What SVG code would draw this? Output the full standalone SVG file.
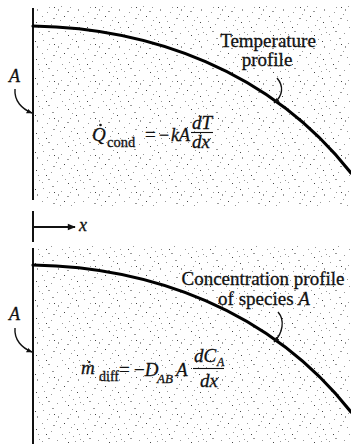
<svg xmlns="http://www.w3.org/2000/svg" width="351" height="444" viewBox="0 0 351 444">
  <style>
    .t{font-family:"Liberation Serif","Times New Roman",serif;fill:#111;stroke:#111;stroke-width:0.3}
    .i{font-style:italic}
    .wall{stroke:#111;stroke-width:2;fill:none}
    .prof{stroke:#000;stroke-width:3.2;fill:none;stroke-linecap:round}
    .lead{stroke:#111;stroke-width:1.4;fill:none}
  </style>
  <defs>
    <pattern id="stip" width="41" height="37" patternUnits="userSpaceOnUse">
      <g fill="#999">
        <rect x="2" y="3" width="1" height="1"/><rect x="11" y="1" width="2" height="1"/>
        <rect x="20" y="6" width="1" height="1"/><rect x="31" y="2" width="1" height="1"/>
        <rect x="37" y="9" width="1" height="2"/><rect x="6" y="12" width="1" height="1"/>
        <rect x="15" y="14" width="1" height="1"/><rect x="26" y="11" width="2" height="1"/>
        <rect x="33" y="17" width="1" height="1"/><rect x="3" y="21" width="1" height="1"/>
        <rect x="10" y="24" width="1" height="1"/><rect x="19" y="20" width="1" height="1"/>
        <rect x="28" y="25" width="1" height="1"/><rect x="38" y="27" width="1" height="1"/>
        <rect x="7" y="31" width="2" height="1"/><rect x="16" y="33" width="1" height="1"/>
        <rect x="24" y="31" width="1" height="1"/><rect x="34" y="34" width="1" height="1"/>
        <rect x="8" y="7" width="1" height="1"/><rect x="17" y="9" width="1" height="2"/>
        <rect x="29" y="7" width="1" height="1"/><rect x="1" y="16" width="1" height="1"/>
        <rect x="12" y="18" width="2" height="1"/><rect x="30" y="20" width="1" height="1"/>
        <rect x="21" y="27" width="1" height="1"/><rect x="32" y="29" width="1" height="1"/>
        <rect x="1" y="34" width="1" height="1"/><rect x="39" y="32" width="1" height="1"/>
      </g>
      <g fill="#444">
        <rect x="23" y="16" width="1" height="1"/><rect x="5" y="27" width="1" height="1"/>
        <rect x="36" y="22" width="1" height="1"/><rect x="13" y="7" width="1" height="1"/>
        <rect x="27" y="35" width="1" height="1"/><rect x="35" y="4" width="1" height="1"/>
      </g>
    </pattern>
    <marker id="ah" viewBox="0 0 10 10" refX="9" refY="5" markerWidth="6" markerHeight="6" orient="auto" markerUnits="userSpaceOnUse">
      <path d="M0,1 L10,5 L0,9 Z" fill="#111"/>
    </marker>
    <marker id="ahx" viewBox="0 0 10 10" refX="9" refY="5" markerWidth="9" markerHeight="8" orient="auto" markerUnits="userSpaceOnUse">
      <path d="M0,1 L10,5 L0,9 Z" fill="#111"/>
    </marker>
  </defs>
  <rect width="351" height="444" fill="#fff"/>

  <g id="top-panel">
    <rect x="35" y="5" width="316" height="201" fill="url(#stip)"/>
    <line class="wall" x1="33" y1="8" x2="33" y2="200"/>
    <path class="prof" d="M33,26 C150,28 270,70 351,173"/>
  </g>

  <g id="bottom-panel">
    <rect x="35" y="245" width="316" height="199" fill="url(#stip)"/>
    <line class="wall" x1="33" y1="248" x2="33" y2="444"/>
    <path class="prof" d="M33,265 C150,267 270,309 351,412"/>
  </g>

  <g id="x-axis">
    <line class="wall" x1="33" y1="211" x2="33" y2="242"/>
    <line x1="33" y1="227" x2="75" y2="227" stroke="#111" stroke-width="2" marker-end="url(#ahx)"/>
    <text class="t i" x="79" y="231" font-size="18">x</text>
  </g>

  <g id="connectors">
    <path class="lead" d="M15,89 C14,101 22,109 32,113" marker-end="url(#ah)"/>
    <path class="lead" d="M15,328 C14,340 22,348 32,352" marker-end="url(#ah)"/>
    <path class="lead" d="M277,78 C284,86 283,96 274,103" marker-end="url(#ah)"/>
    <path class="lead" d="M278,312 C285,320 283,333 274,342" marker-end="url(#ah)"/>
  </g>

  <g id="label-A-top">
    <text class="t i" x="9" y="82" font-size="18">A</text>
  </g>
  <g id="label-A-bottom">
    <text class="t i" x="9" y="320" font-size="18">A</text>
  </g>

  <g id="temperature-label">
    <text class="t" x="268" y="47" font-size="19" text-anchor="middle">Temperature</text>
    <text class="t" x="267" y="66" font-size="19" text-anchor="middle">profile</text>
  </g>

  <g id="concentration-label">
    <text class="t" x="263" y="285" font-size="19" text-anchor="middle">Concentration profile</text>
    <text class="t" x="264" y="305" font-size="19" text-anchor="middle">of species <tspan class="i">A</tspan></text>
  </g>

  <g id="fourier-eq">
    <text class="t i" x="92" y="141" font-size="19">Q</text>
    <circle cx="100.5" cy="125" r="1.3" fill="#111"/>
    <text class="t" x="107" y="147" font-size="14.5">cond</text>
    <text class="t" x="145" y="141" font-size="19">=</text>
    <text class="t" x="159" y="141" font-size="18">−</text>
    <text class="t i" x="171" y="141" font-size="18">kA</text>
    <text class="t i" x="192" y="129" font-size="19">dT</text>
    <line x1="191" y1="132.5" x2="213" y2="132.5" stroke="#111" stroke-width="1.1"/>
    <text class="t i" x="192" y="148" font-size="19">dx</text>
  </g>

  <g id="fick-eq">
    <text class="t i" x="81" y="374" font-size="19">ṁ</text>
    <text class="t" x="99" y="381" font-size="14">diff</text>
    <text class="t" x="119" y="376" font-size="19">=</text>
    <text class="t" x="134" y="376" font-size="19">−<tspan class="i">D</tspan></text>
    <text class="t i" x="157" y="383" font-size="13">AB</text>
    <text class="t i" x="176" y="376" font-size="19">A</text>
    <text class="t i" x="194" y="362" font-size="19">dC</text>
    <text class="t i" x="217" y="366" font-size="12">A</text>
    <line x1="193" y1="368.5" x2="224" y2="368.5" stroke="#111" stroke-width="1.1"/>
    <text class="t i" x="200" y="387" font-size="19">dx</text>
  </g>
</svg>
